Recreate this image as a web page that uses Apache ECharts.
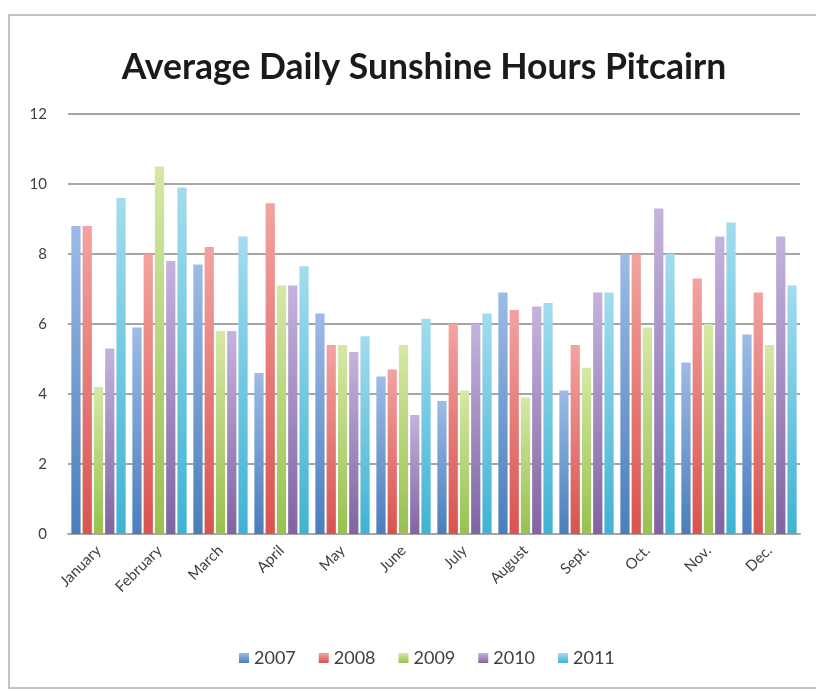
<!DOCTYPE html>
<html>
<head>
<meta charset="utf-8">
<script src="https://cdn.jsdelivr.net/npm/echarts@6/dist/echarts.min.js"></script>
<style>
html,body{margin:0;padding:0;background:#fff;}
#c{width:816px;height:692px;}
</style>
</head>
<body>
<div id="c"></div>
<script>
const categories = ['January','February','March','April','May','June','July','August','Sept.','Oct.','Nov.','Dec.'];
const years = ['2007','2008','2009','2010','2011'];
const v2007 = [8.8, 5.9, 7.7, 4.6, 6.3, 4.5, 3.8, 6.9, 4.1, 8.0, 4.9, 5.7];
const v2008 = [8.8, 8.0, 8.2, 9.45, 5.4, 4.7, 6.0, 6.4, 5.4, 8.0, 7.3, 6.9];
const v2009 = [4.2, 10.5, 5.8, 7.1, 5.4, 5.4, 4.1, 3.9, 4.75, 5.9, 6.0, 5.4];
const v2010 = [5.3, 7.8, 5.8, 7.1, 5.2, 3.4, 6.0, 6.5, 6.9, 9.3, 8.5, 8.5];
const v2011 = [9.6, 9.9, 8.5, 7.65, 5.65, 6.15, 6.3, 6.6, 6.9, 8.0, 8.9, 7.1];
const yTicks = [0, 2, 4, 6, 8, 10, 12];

const seriesValues = [v2007, v2008, v2009, v2010, v2011];
const baseColors = ['#4a7ebb', '#d9534f', '#98c150', '#8064a2', '#3fb3d3'];
const topColors  = ['#9dbbe6', '#f2a3a1', '#d6e8a6', '#c5b3dd', '#a3dcee'];

const chart = echarts.init(document.getElementById('c'), null, {renderer: 'canvas'});
const FONT = 'Lato, "Open Sans", sans-serif';

chart.setOption({
  backgroundColor: '#ffffff',
  animation: false,
  graphic: [{
    type: 'rect',
    shape: {x: 9, y: 15, width: 830, height: 673},
    style: {fill: 'none', stroke: '#c4c4c4', lineWidth: 2},
    z: -1
  }],
  title: {
    text: 'Average Daily Sunshine Hours Pitcairn',
    left: 419, top: 45, textAlign: 'center',
    textStyle: {fontFamily: FONT, fontSize: 35.5, fontWeight: 'bold', color: '#1a1a1a'}
  },
  legend: {
    data: years,
    bottom: 20,
    left: 234,
    itemWidth: 10, itemHeight: 10, itemGap: 23,
    icon: 'rect',
    textStyle: {fontFamily: FONT, fontSize: 18, color: '#404040'}
  },
  grid: {left: 68, right: 16, top: 114, bottom: 158},
  xAxis: {
    type: 'category',
    data: categories,
    boundaryGap: true,
    axisLine: {lineStyle: {color: '#a6a6a6', width: 2}},
    axisTick: {show: false},
    axisLabel: {rotate: 45, margin: 14, fontFamily: FONT, fontSize: 15, color: '#404040', interval: 0}
  },
  yAxis: {
    type: 'value',
    min: yTicks[0], max: yTicks[yTicks.length - 1], interval: 2,
    axisLine: {show: false},
    axisTick: {show: false},
    axisLabel: {margin: 21, fontFamily: FONT, fontSize: 15, color: '#404040'},
    splitLine: {lineStyle: {color: '#a6a6a6', width: 2}}
  },
  series: years.map((y, i) => ({
    name: y,
    type: 'bar',
    data: seriesValues[i],
    barGap: '22%',
    barCategoryGap: '11%',
    itemStyle: {
      color: new echarts.graphic.LinearGradient(0, 0, 0, 1, [
        {offset: 0, color: topColors[i]},
        {offset: 1, color: baseColors[i]}
      ])
    }
  }))
});
</script>
</body>
</html>
